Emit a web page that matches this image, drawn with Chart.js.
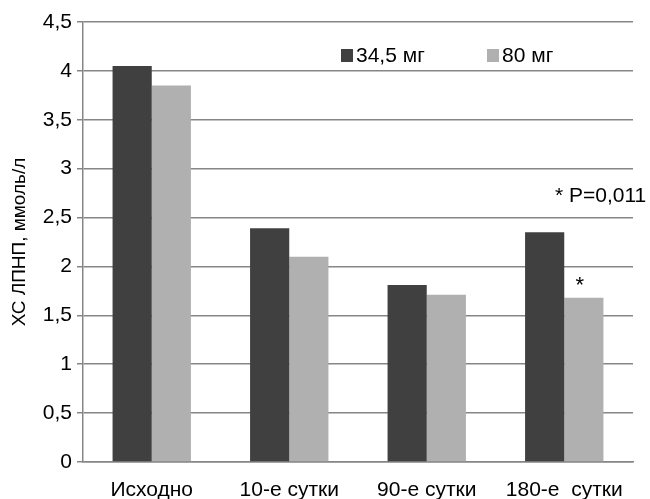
<!DOCTYPE html>
<html>
<head>
<meta charset="utf-8">
<script src="https://cdn.jsdelivr.net/npm/chart.js@4"></script>
<style>
  html, body { margin: 0; padding: 0; background: #fff; }
  #wrap { width: 650px; height: 499px; }
</style>
</head>
<body>
<div id="wrap"><canvas id="myChart" width="650" height="499"></canvas></div>
<script>
// data
var categories = ['Исходно', '10-е сутки', '90-е сутки', '180-е  сутки'];
var dose345 = [4.05, 2.39, 1.81, 2.35];
var dose80 = [3.85, 2.1, 1.71, 1.68];
var seriesNames = ['34,5 мг', '80 мг'];
var seriesColors = ['#404040', '#b0b0b0'];
var yTitle = 'ХС ЛПНП, ммоль/л';
var noteText = '* P=0,011';

var FONT = '"Liberation Sans", Arial, Helvetica, sans-serif';
var gridColor = '#868686';

// legend + notes drawn on top of the plot
var extras = {
  id: 'extras',
  afterDraw: function (chart) {
    var ctx = chart.ctx;
    ctx.save();
    ctx.font = '21px ' + FONT;
    ctx.textBaseline = 'middle';
    ctx.fillStyle = '#000';
    // legend
    var lx = [341, 487];
    for (var i = 0; i < seriesNames.length; i++) {
      ctx.fillStyle = seriesColors[i];
      ctx.fillRect(lx[i], 49, 12, 13);
      ctx.fillStyle = '#000';
      ctx.textAlign = 'left';
      ctx.fillText(seriesNames[i], lx[i] + 15, 56);
    }
    // p-value note
    ctx.fillText(noteText, 555, 196);
    // asterisk over the 80 mg bar at 180 days
    var bar = chart.getDatasetMeta(1).data[3];
    ctx.textAlign = 'center';
    ctx.font = '22px ' + FONT;
    ctx.fillText('*', bar.x - 4, bar.y - 12);
    ctx.restore();
  }
};

var ctx = document.getElementById('myChart').getContext('2d');
var myChart = new Chart(ctx, {
  type: 'bar',
  data: {
    labels: categories,
    datasets: [
      { label: seriesNames[0], data: dose345, backgroundColor: seriesColors[0], categoryPercentage: 0.57, barPercentage: 1 },
      { label: seriesNames[1], data: dose80, backgroundColor: seriesColors[1], categoryPercentage: 0.57, barPercentage: 1 }
    ]
  },
  options: {
    responsive: false,
    animation: false,
    layout: { padding: { top: 22, right: 17, left: 8, bottom: 0 } },
    plugins: {
      legend: { display: false },
      tooltip: { enabled: false }
    },
    scales: {
      x: {
        grid: { display: false, drawTicks: false },
        border: { display: true, color: gridColor, width: 1.5 },
        ticks: { color: '#000', font: { family: FONT, size: 21 }, padding: 16, maxRotation: 0, autoSkip: false },
        afterFit: function (scale) { scale.height = 37; }
      },
      y: {
        min: 0,
        max: 4.5,
        grid: { color: gridColor, lineWidth: 1.5, tickLength: 6 },
        border: { display: true, color: gridColor, width: 1.5 },
        ticks: {
          stepSize: 0.5,
          color: '#000',
          padding: 5,
          font: { family: FONT, size: 21 },
          callback: function (v) { return String(v).replace('.', ','); }
        },
        title: { display: true, text: yTitle, color: '#000', font: { family: FONT, size: 19 }, padding: 0 },
        afterFit: function (scale) { scale.width = 75; }
      }
    }
  },
  plugins: [extras]
});
</script>
</body>
</html>
